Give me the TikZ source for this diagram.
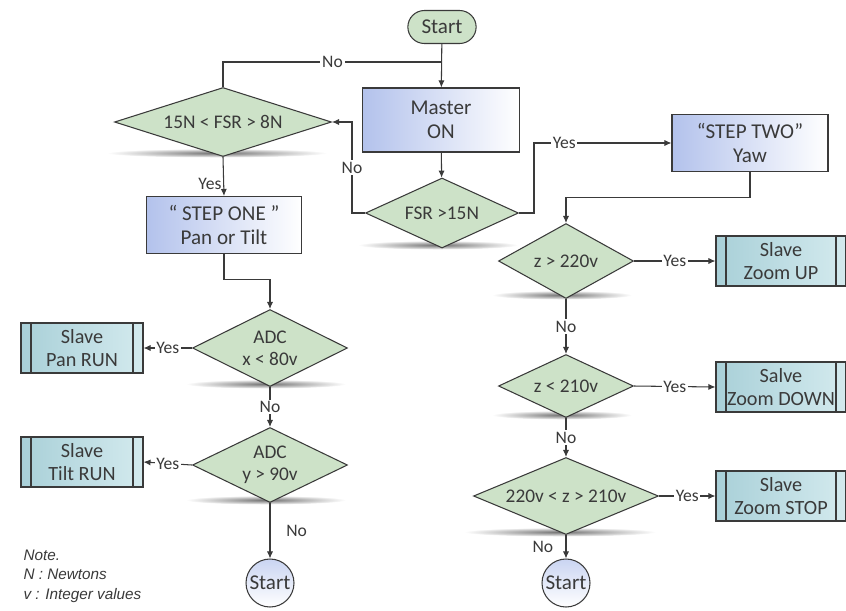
\documentclass[tikz,border=0pt]{standalone}
\usepackage{fontspec}
\setmainfont{Carlito}
\setsansfont{Liberation Sans}
\usepackage{tikz}
\usetikzlibrary{shapes,arrows.meta}

\definecolor{diagreen}{HTML}{CDE2C8}
\definecolor{procblue}{HTML}{B3C2EC}
\definecolor{slaveteal}{HTML}{A9D0D8}
\definecolor{slavelight}{HTML}{D3EAEE}
\definecolor{inkgrey}{HTML}{3A3A3A}

\begin{document}
\begin{tikzpicture}[x=0.02cm,y=-0.02cm,
	>={Latex[length=4pt,width=3.5pt]},
	color=inkgrey,line width=0.6pt,
	dec/.style={diamond,draw,fill=diagreen,inner sep=0pt,align=center,font=\fontsize{11}{12.5}\selectfont},
	proc/.style={rectangle,draw,left color=procblue,right color=white,align=center,font=\fontsize{12}{14}\selectfont},
	slave/.style={rectangle,draw,left color=slaveteal,right color=slavelight,align=center,
		minimum width=2.6cm,minimum height=1.0cm,font=\fontsize{11.5}{13}\selectfont,
		path picture={\draw ([xshift=0.2cm]path picture bounding box.north west) -- ([xshift=0.2cm]path picture bounding box.south west);
			\draw ([xshift=-0.2cm]path picture bounding box.north east) -- ([xshift=-0.2cm]path picture bounding box.south east);}},
	term/.style={rounded rectangle,draw,fill=diagreen,minimum width=1.6cm,minimum height=0.66cm,font=\fontsize{12}{14}\selectfont},
	endc/.style={circle,draw,top color=procblue!70,bottom color=white,minimum size=0.96cm,inner sep=0pt,font=\fontsize{12}{14}\selectfont},
	lbl/.style={fill=white,inner sep=1pt,font=\fontsize{10}{12}\selectfont}]

			\fill[white] (0,0) rectangle (846,610);
			\useasboundingbox (0,0) rectangle (846,610);

			% shadows under the decisions
			\foreach \cx/\cy/\rx in {217/153/110, 438/245/80, 266/384/80, 266/500/80, 562/295/70, 562/415/70, 560/532/96}
				\shade[inner color=black!55,outer color=white] (\cx,\cy) ellipse [x radius=\rx*0.02cm, y radius=0.09cm];

			\node[term] (start) at (442,27) {Start};
			\node[proc,minimum width=3.14cm,minimum height=1.28cm] (master) at (441,120) {Master\\ON};
			\node[dec,aspect=3.1,minimum width=4.34cm,minimum height=1.38cm] (fsrmid) at (223,122) {15N < FSR > 8N};
			\node[dec,aspect=2.2,minimum width=3.06cm,minimum height=1.4cm] (fsr) at (442,213) {FSR >15N};
			\node[proc,minimum width=3.1cm,minimum height=1.14cm] (stepone) at (224,225) {“ STEP ONE ”\\Pan or Tilt};
			\node[proc,minimum width=3.12cm,minimum height=1.14cm] (steptwo) at (750,143) {“STEP TWO”\\Yaw};

			\node[dec,aspect=2,minimum width=3.1cm,minimum height=1.54cm] (adcx) at (270,348) {ADC\\x < 80v};
			\node[dec,aspect=2,minimum width=3.1cm,minimum height=1.5cm] (adcy) at (270,465) {ADC\\y > 90v};
			\node[slave,minimum width=2.44cm] (pan) at (82,348) {Slave\\Pan RUN};
			\node[slave,minimum width=2.44cm] (tilt) at (82,462) {Slave\\Tilt RUN};
			\node[endc] (endl) at (270,583) {Start};

			\node[dec,aspect=1.8,minimum width=2.7cm,minimum height=1.5cm] (zup) at (566,261) {z > 220v};
			\node[dec,aspect=2.14,minimum width=2.7cm,minimum height=1.26cm] (zdown) at (566,386) {z < 210v};
			\node[dec,aspect=2.4,minimum width=3.7cm,minimum height=1.54cm] (zstop) at (566,496) {220v < z > 210v};
			\node[slave] (up) at (781,261) {Slave\\Zoom UP};
			\node[slave] (down) at (781,387) {Salve\\Zoom DOWN};
			\node[slave] (stop) at (781,496) {Slave\\Zoom STOP};
			\node[endc] (endr) at (566,583) {Start};

			\node[anchor=north west,align=left,inner sep=0pt,font=\sffamily\itshape\fontsize{8.7}{11.3}\selectfont] (note) at (23,549) {Note.\\N : Newtons\\v : Integer values};

			\coordinate (join) at (442,62);
			\path[->,draw] (start) -- (master);
			\path[->,draw] (master) -- (fsr);
			\path[draw] (fsrmid.north) |- node[lbl,pos=0.75] {No} (join);
			\path[->,draw] (fsr.west) -- ++(-13,0) |- node[lbl,pos=0.25] {No} (fsrmid.east);
			\path[->,draw] (fsr.east) -- ++(15,0) |- node[lbl,pos=0.61] {Yes} (steptwo.west);
			\path[->,draw] (fsrmid.south) -- node[lbl,pos=0.68,left,fill=none] {Yes} (stepone.north);
			\path[->,draw] (stepone.south) -- ++(0,25) -| (adcx.north);
			\path[->,draw] (adcx.west) -- node[lbl] {Yes} (pan.east);
			\path[->,draw] (adcx.south) -- node[lbl] {No} (adcy.north);
			\path[->,draw] (adcy.west) -- node[lbl] {Yes} (tilt.east);
			\path[->,draw] (adcy.south) -- node[lbl,right,fill=none,xshift=8pt] {No} (endl.north);

			\path[->,draw] (steptwo.south) -- ++(0,25) -| (zup.north);
			\path[->,draw] (zup.east) -- node[lbl] {Yes} (up.west);
			\path[->,draw] (zup.south) -- node[lbl] {No} (zdown.north);
			\path[->,draw] (zdown.east) -- node[lbl] {Yes} (down.west);
			\path[->,draw] (zdown.south) -- node[lbl] {No} (zstop.north);
			\path[->,draw] (zstop.east) -- node[lbl] {Yes} (stop.west);
			\path[->,draw] (zstop.south) -- node[lbl,left,fill=none,xshift=-6pt] {No} (endr.north);
		\end{tikzpicture}
\end{document}
